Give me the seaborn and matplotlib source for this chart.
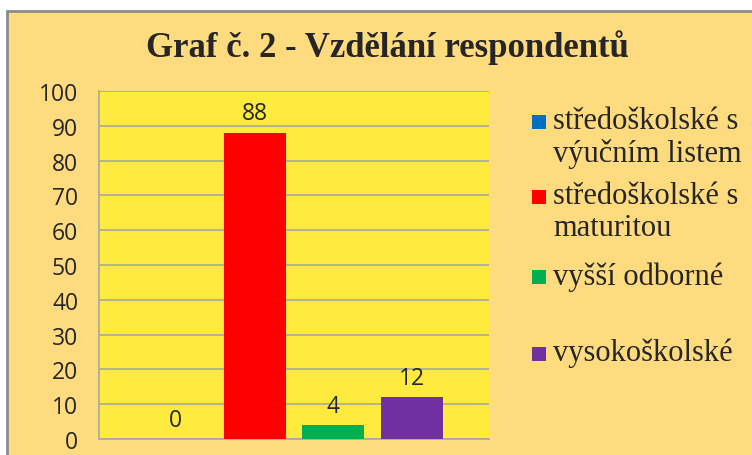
#!/usr/bin/env python3
"""Graf c. 2 - vzdelani respondentu (bar chart, Excel-style)."""

import pandas as pd
import matplotlib.pyplot as plt
import seaborn as sns
from matplotlib.patches import Rectangle

# Data
categories = ['středoškolské s\nvýučním listem', 'středoškolské s\nmaturitou',
              'vyšší odborné', 'vysokoškolské']
values = [0, 88, 4, 12]
colors = ['#0070C0', '#FF0000', '#00B050', '#7030A0']
y_ticks = [0, 10, 20, 30, 40, 50, 60, 70, 80, 90, 100]
title = 'Graf č. 2 - Vzdělání respondentů'

FIG_BG = '#FFDB80'
PLOT_BG = '#FFEB3D'
GRID = '#A8A8A0'

sns.set_theme(style='white')
plt.rcParams['font.family'] = ['Open Sans', 'DejaVu Sans']

df = pd.DataFrame({'kategorie': categories, 'pocet': values})

fig = plt.figure(figsize=(7.52, 4.56), dpi=100, facecolor='white')
# chart area frame (cut off at right/bottom like the source screenshot)
fig.patches.append(Rectangle((7 / 752, -0.1), 1.2, (456 - 12) / 456 + 0.1,
                             transform=fig.transFigure, facecolor=FIG_BG,
                             edgecolor='#8C8C8C', linewidth=2, zorder=-1))

ax = fig.add_axes([99 / 752, 16 / 456, 390 / 752, 348 / 456])
ax.set_facecolor(PLOT_BG)

sns.barplot(data=df, x='kategorie', y='pocet', hue='kategorie',
            palette=colors, dodge=False, width=0.785, legend=False,
            saturation=1, linewidth=0, edgecolor='none', ax=ax, zorder=3)

ax.set_ylim(0, 100)
ax.set_xlim(-0.975, 3.975)
ax.set_yticks(y_ticks)
ax.set_yticklabels([str(t) for t in y_ticks], fontsize=16.5, color='#262626')
ax.tick_params(axis='y', length=0, pad=15)
ax.set_xticks([])
ax.set_xlabel('')
ax.set_ylabel('')
ax.yaxis.grid(True, color=GRID, linewidth=1.2, zorder=0)
ax.set_axisbelow(True)
for side in ['top', 'right']:
    ax.spines[side].set_visible(False)
for side in ['left', 'bottom']:
    ax.spines[side].set_color(GRID)
    ax.spines[side].set_linewidth(1.2)

# value labels
for i, v in enumerate(values):
    ax.annotate(str(v), (i, v), xytext=(0, 14), textcoords='offset points',
                ha='center', va='center', fontsize=16.5, color='#262626')

fig.text(387 / 752, 1 - 48 / 456, title, ha='center', va='center',
         fontsize=25, fontweight='bold', family=['Liberation Serif'])

# legend drawn Excel-style: marker aligned with first text line
legend_y = [123, 198, 278, 355]
for lab, col, yy in zip(categories, colors, legend_y):
    fig.patches.append(Rectangle((532 / 752, 1 - (yy + 7) / 456), 14 / 752, 14 / 456,
                                 transform=fig.transFigure, facecolor=col,
                                 edgecolor='none'))
    fig.text(553 / 752, 1 - (yy - 16) / 456, lab, ha='left', va='top',
             fontsize=22, linespacing=1.15, family=['Liberation Serif'])

fig.savefig('out.png', dpi=100, facecolor=fig.get_facecolor())
